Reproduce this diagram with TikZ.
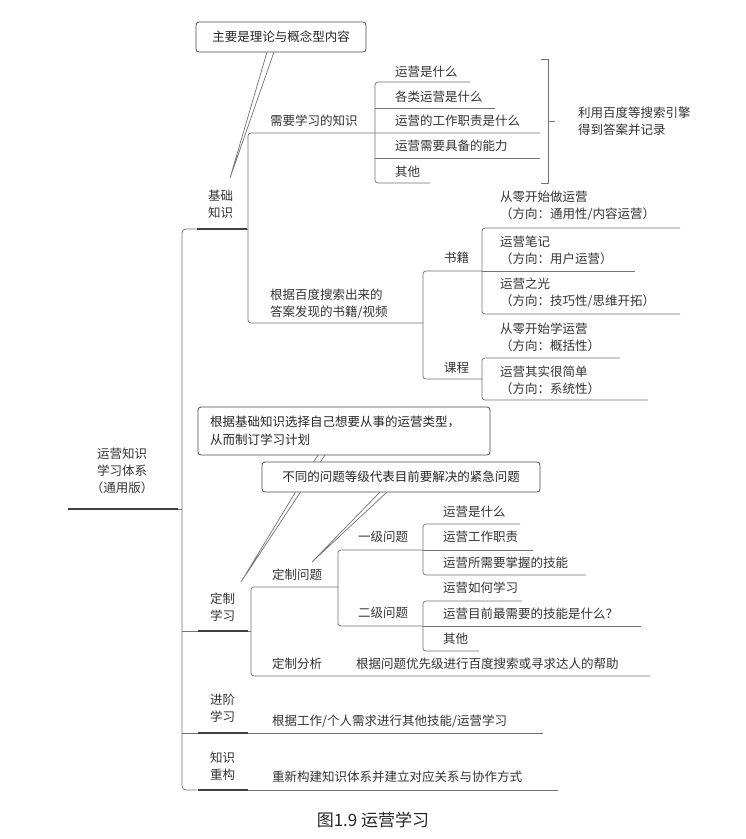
\documentclass[tikz,border=0pt]{standalone}
\usepackage{fontspec}
\newfontfamily\cjk{Noto Sans CJK SC}
\newfontfamily\cjki[AutoFakeSlant=0.22,AutoFakeBold=1.5]{Noto Sans CJK SC}
\begin{document}
\begin{tikzpicture}[x=1pt,y=-1pt,
  t/.style={anchor=west,inner sep=0pt,font=\cjk\fontsize{12.5}{17}\selectfont,text=black!80,align=left},
  tc/.style={t,anchor=center,align=center},
  ln/.style={draw=black!55,line width=0.7pt},
  ul/.style={draw=black!75,line width=2pt},
  box/.style={draw=black!70,line width=0.8pt,fill=white,rounded corners=3pt},
  ci/.style={inner sep=0pt,font=\cjki\fontsize{12.5}{18}\selectfont,text=black!85,align=left}]
\useasboundingbox[fill=white] (0,0) rectangle (746,839);
% trunk
\draw[ln,rounded corners=4pt] (197,229) -- (182,229) -- (182,790) -- (197,790);
\draw[ln] (178,509) -- (182,509);
\draw[ln] (182,631) -- (198,631);
\draw[ln] (182,733) -- (198,733);
% root
\node[tc] (root) at (122,471) {运营知识\\学习体系\\（通用版）};
\draw[ul] (68,509) -- (178,509);
% 基础知识
\node[t] (jc) at (208,204) {基础\\知识};
\draw[ul] (197,229) -- (247,229);
\draw[ln,rounded corners=3pt] (540,133) -- (248,133) -- (248,323) -- (423,323);
\draw[ln] (247,229) -- (248,229);
\node[t] (xy) at (270,121) {需要学习的知识};
\draw[ln,rounded corners=3pt] (470,82) -- (375,82) -- (375,183) -- (430,183);
\node[t] (a1) at (395,72) {运营是什么};
\node[t] (a2) at (395,97) {各类运营是什么};
\draw[ln] (375,108) -- (495,108);
\node[t] (a3) at (395,121) {运营的工作职责是什么};
\node[t] (a4) at (395,146) {运营需要具备的能力};
\draw[ln] (375,158) -- (540,158);
\node[t] (a5) at (395,172) {其他};
\draw[ln] (541,59) -- (548,59) -- (548,183) -- (541,183);
\draw[ln] (548,121) -- (555,121);
\node[t] (ly) at (578,121) {利用百度等搜索引擎\\得到答案并记录};
\node[t] (gj) at (270,304) {根据百度搜索出来的\\答案发现的书籍/视频};
\draw[ln,rounded corners=3pt] (482,271) -- (423,271) -- (423,379) -- (482,379);
\node[t] (sj) at (444,258) {书籍};
\draw[ln,rounded corners=3pt] (680,228) -- (482,228) -- (482,314) -- (680,314);
\draw[ln] (482,271) -- (635,271);
\node[t] (b1) at (500,206) {从零开始做运营\\（方向：通用性/内容运营）};
\node[t] (b2) at (500,250) {运营笔记\\（方向：用户运营）};
\node[t] (b3) at (500,293) {运营之光\\（方向：技巧性/思维开拓）};
\node[t] (kc) at (444,368) {课程};
\draw[ln,rounded corners=3pt] (620,358) -- (482,358) -- (482,400) -- (648,400);
\node[t] (c1) at (500,337) {从零开始学运营\\（方向：概括性）};
\node[t] (c2) at (500,380) {运营其实很简单\\（方向：系统性）};
% callout 1
\filldraw[ln,fill=white] (267,52) -- (230,178) -- (274,52);
\node[box,minimum width=170pt,minimum height=30pt] (k1) at (281,37) {};
\node[ci] at (k1) {主要是理论与概念型内容};
% 定制学习
\node[t] (dz) at (210,607) {定制\\学习};
\draw[ul] (198,631) -- (248,631);
\draw[ln,rounded corners=3pt] (338,587) -- (251,587) -- (251,676) -- (650,676);
\draw[ln] (248,631) -- (251,631);
\node[t] (dw) at (272,575) {定制问题};
\draw[ln,rounded corners=3pt] (423,550) -- (338,550) -- (338,626) -- (423,626);
\node[t] (y1) at (358,537) {一级问题};
\draw[ln,rounded corners=3pt] (520,524) -- (423,524) -- (423,575) -- (586,575);
\draw[ln] (423,550) -- (533,550);
\node[t] (d1) at (443,512) {运营是什么};
\node[t] (d2) at (443,537) {运营工作职责};
\node[t] (d3) at (443,563) {运营所需要掌握的技能};
\node[t] (y2) at (358,613) {二级问题};
\draw[ln,rounded corners=3pt] (522,601) -- (423,601) -- (423,651) -- (479,651);
\draw[ln] (423,626) -- (641,626);
\node[t] (e1) at (443,588) {运营如何学习};
\node[t] (e2) at (443,614) {运营目前最需要的技能是什么？};
\node[t] (e3) at (443,639) {其他};
\node[t] (fx) at (272,664) {定制分析};
\node[t] (fx2) at (356,664) {根据问题优先级进行百度搜索或寻求达人的帮助};
% 进阶学习
\node[t] (jj) at (210,708) {进阶\\学习};
\draw[ul] (198,733) -- (248,733);
\draw[ln] (248,733) -- (543,733);
\node[t] (jj2) at (272,721) {根据工作/个人需求进行其他技能/运营学习};
% 知识重构
\node[t] (cg) at (210,766) {知识\\重构};
\draw[ul] (198,790) -- (248,790);
\draw[ln] (248,790) -- (558,790);
\node[t] (cg2) at (272,777) {重新构建知识体系并建立对应关系与协作方式};
% callouts 2,3
\filldraw[ln,fill=white] (318,455) -- (241,582) -- (325,455);
\node[box,minimum width=292pt,minimum height=48pt] (k2) at (344,431) {};
\node[ci,anchor=west] at (210,431) {根据基础知识选择自己想要从事的运营类型，\\从而制订学习计划};
\filldraw[ln,fill=white] (380,492) -- (312,562) -- (387,492);
\node[box,minimum width=278pt,minimum height=30pt] (k3) at (401,477) {};
\node[ci] at (k3) {不同的问题等级代表目前要解决的紧急问题};
% caption
\node[font=\cjk\fontsize{17}{20}\selectfont,text=black!85] (cap) at (373,820) {图1.9 运营学习};
\end{tikzpicture}
\end{document}
